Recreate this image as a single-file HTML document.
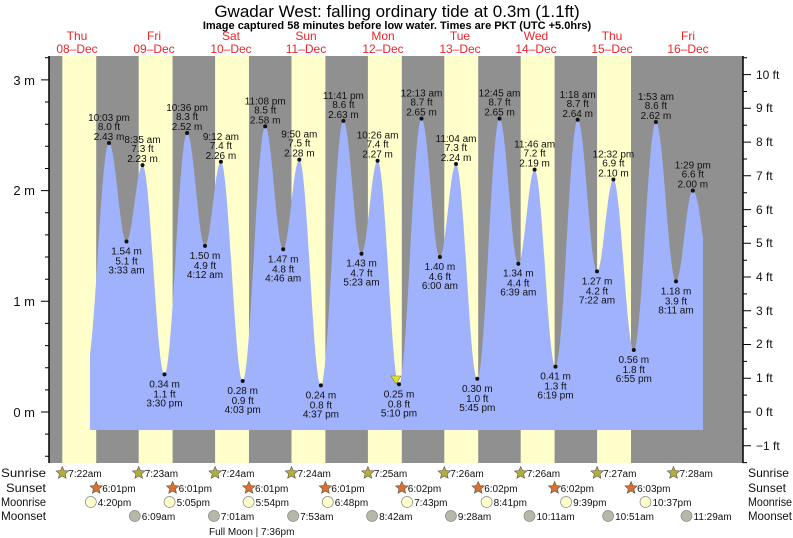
<!DOCTYPE html>
<html><head><meta charset="utf-8"><style>
html,body{margin:0;padding:0;background:#fff;}
svg{display:block;font-family:"Liberation Sans",sans-serif;}
</style></head><body>
<svg width="793" height="538" viewBox="0 0 793 538" xmlns="http://www.w3.org/2000/svg">
<defs>
<clipPath id="cp"><rect x="90" y="56" width="613" height="380"/></clipPath>
<polygon id="st" points="0,-6.5 1.76,-2.43 6.18,-2.01 2.85,0.93 3.82,5.26 0,3 -3.82,5.26 -2.85,0.93 -6.18,-2.01 -1.76,-2.43" stroke="#555" stroke-width="0.6"/>
</defs>
<rect x="49" y="56" width="694" height="407" fill="#909090"/>
<g fill="#ffffcc">
<rect x="62.3" y="56" width="33.9" height="407"/>
<rect x="138.7" y="56" width="33.9" height="407"/>
<rect x="215.1" y="56" width="33.9" height="407"/>
<rect x="291.5" y="56" width="33.9" height="407"/>
<rect x="367.9" y="56" width="33.9" height="407"/>
<rect x="444.3" y="56" width="33.9" height="407"/>
<rect x="520.7" y="56" width="33.9" height="407"/>
<rect x="597.1" y="56" width="33.9" height="407"/>
</g>
<path clip-path="url(#cp)" fill="#a0b2fc" d="M86.5,367.7
C94.7,367.7 100.8,143.0 109.0,143.0
C115.4,143.0 120.1,241.5 126.5,241.5
C132.3,241.5 136.7,165.1 142.5,165.1
C150.5,165.1 156.5,374.4 164.5,374.4
C172.7,374.4 178.9,133.0 187.1,133.0
C193.6,133.0 198.5,245.9 205.0,245.9
C210.8,245.9 215.1,161.8 220.9,161.8
C228.8,161.8 234.8,381.0 242.7,381.0
C250.9,381.0 257.0,126.4 265.2,126.4
C271.8,126.4 276.6,249.3 283.2,249.3
C289.1,249.3 293.4,159.6 299.3,159.6
C307.2,159.6 313.0,385.4 320.9,385.4
C329.1,385.4 335.2,120.9 343.4,120.9
C350.0,120.9 354.9,253.7 361.5,253.7
C367.4,253.7 371.7,160.7 377.6,160.7
C385.4,160.7 391.2,384.3 399.0,384.3
C407.2,384.3 413.3,118.6 421.5,118.6
C428.2,118.6 433.2,257.0 439.9,257.0
C445.8,257.0 450.1,164.0 456.0,164.0
C463.8,164.0 469.5,378.8 477.3,378.8
C485.4,378.8 491.4,118.6 499.5,118.6
C506.3,118.6 511.5,263.7 518.3,263.7
C524.2,263.7 528.7,169.6 534.6,169.6
C542.2,169.6 547.9,366.6 555.5,366.6
C563.6,366.6 569.6,119.8 577.7,119.8
C584.7,119.8 590.0,271.4 597.0,271.4
C603.0,271.4 607.4,179.5 613.4,179.5
C620.8,179.5 626.4,350.0 633.8,350.0
C641.8,350.0 647.9,122.0 655.9,122.0
C663.2,122.0 668.7,281.4 676.0,281.4
C682.1,281.4 686.7,190.6 692.8,190.6
C702.7,190.6 710.1,345.6 720.0,345.6
L720,430 L86.5,430 Z"/>
<g stroke="#000" fill="none">
<line x1="49" y1="56" x2="49" y2="463" stroke-width="1.5"/>
<line x1="743" y1="56" x2="743" y2="463" stroke-width="1.5"/>
<path d="M45,456.3H49M45,434.1H49M41,412H49M45,389.9H49M45,367.7H49M45,345.6H49M45,323.4H49M41,301.3H49M45,279.2H49M45,257H49M45,234.9H49M45,212.7H49M41,190.6H49M45,168.5H49M45,146.3H49M45,124.2H49M45,102H49M41,79.9H49M45,57.8H49"/>
<path d="M743,462.6H747M743,445.7H751M743,428.9H747M743,412H751M743,395.1H747M743,378.3H751M743,361.4H747M743,344.5H751M743,327.7H747M743,310.8H751M743,293.9H747M743,277H751M743,260.2H747M743,243.3H751M743,226.4H747M743,209.6H751M743,192.7H747M743,175.8H751M743,159H747M743,142.1H751M743,125.2H747M743,108.3H751M743,91.5H747M743,74.6H751M743,57.7H747"/>
</g>
<g font-size="12" fill="#111">
<text x="756" y="450">−1 ft</text><text x="756" y="416">0 ft</text><text x="756" y="382">1 ft</text>
<text x="756" y="348">2 ft</text><text x="756" y="315">3 ft</text><text x="756" y="281">4 ft</text>
<text x="756" y="247">5 ft</text><text x="756" y="214">6 ft</text><text x="756" y="180">7 ft</text>
<text x="756" y="146">8 ft</text><text x="756" y="112">9 ft</text><text x="756" y="79">10 ft</text>
</g>
<g font-size="10" fill="#111" text-anchor="middle">
<circle cx="109.0" cy="143.0" r="2"/><text x="109.0" y="121">10:03 pm</text><text x="109.0" y="130">8.0 ft</text><text x="109.0" y="140">2.43 m</text>
<circle cx="126.5" cy="241.5" r="2"/><text x="126.5" y="254.5">1.54 m</text><text x="126.5" y="264.5">5.1 ft</text><text x="126.5" y="273.5">3:33 am</text>
<circle cx="142.5" cy="165.1" r="2"/><text x="142.5" y="143.1">8:35 am</text><text x="142.5" y="152.1">7.3 ft</text><text x="142.5" y="162.1">2.23 m</text>
<circle cx="164.5" cy="374.4" r="2"/><text x="164.5" y="387.4">0.34 m</text><text x="164.5" y="397.4">1.1 ft</text><text x="164.5" y="406.4">3:30 pm</text>
<circle cx="187.1" cy="133.0" r="2"/><text x="187.1" y="111">10:36 pm</text><text x="187.1" y="120">8.3 ft</text><text x="187.1" y="130">2.52 m</text>
<circle cx="205.0" cy="245.9" r="2"/><text x="205.0" y="258.9">1.50 m</text><text x="205.0" y="268.9">4.9 ft</text><text x="205.0" y="277.9">4:12 am</text>
<circle cx="220.9" cy="161.8" r="2"/><text x="220.9" y="139.8">9:12 am</text><text x="220.9" y="148.8">7.4 ft</text><text x="220.9" y="158.8">2.26 m</text>
<circle cx="242.7" cy="381.0" r="2"/><text x="242.7" y="394">0.28 m</text><text x="242.7" y="404">0.9 ft</text><text x="242.7" y="413">4:03 pm</text>
<circle cx="265.2" cy="126.4" r="2"/><text x="265.2" y="104.4">11:08 pm</text><text x="265.2" y="113.4">8.5 ft</text><text x="265.2" y="123.4">2.58 m</text>
<circle cx="283.2" cy="249.3" r="2"/><text x="283.2" y="262.3">1.47 m</text><text x="283.2" y="272.3">4.8 ft</text><text x="283.2" y="281.3">4:46 am</text>
<circle cx="299.3" cy="159.6" r="2"/><text x="299.3" y="137.6">9:50 am</text><text x="299.3" y="146.6">7.5 ft</text><text x="299.3" y="156.6">2.28 m</text>
<circle cx="320.9" cy="385.4" r="2"/><text x="320.9" y="398.4">0.24 m</text><text x="320.9" y="408.4">0.8 ft</text><text x="320.9" y="417.4">4:37 pm</text>
<circle cx="343.4" cy="120.9" r="2"/><text x="343.4" y="98.9">11:41 pm</text><text x="343.4" y="107.9">8.6 ft</text><text x="343.4" y="117.9">2.63 m</text>
<circle cx="361.5" cy="253.7" r="2"/><text x="361.5" y="266.7">1.43 m</text><text x="361.5" y="276.7">4.7 ft</text><text x="361.5" y="285.7">5:23 am</text>
<circle cx="377.6" cy="160.7" r="2"/><text x="377.6" y="138.7">10:26 am</text><text x="377.6" y="147.7">7.4 ft</text><text x="377.6" y="157.7">2.27 m</text>
<circle cx="399.0" cy="384.3" r="2"/><text x="399.0" y="397.3">0.25 m</text><text x="399.0" y="407.3">0.8 ft</text><text x="399.0" y="416.3">5:10 pm</text>
<circle cx="421.5" cy="118.6" r="2"/><text x="421.5" y="96.6">12:13 am</text><text x="421.5" y="105.6">8.7 ft</text><text x="421.5" y="115.6">2.65 m</text>
<circle cx="439.9" cy="257.0" r="2"/><text x="439.9" y="270">1.40 m</text><text x="439.9" y="280">4.6 ft</text><text x="439.9" y="289">6:00 am</text>
<circle cx="456.0" cy="164.0" r="2"/><text x="456.0" y="142">11:04 am</text><text x="456.0" y="151">7.3 ft</text><text x="456.0" y="161">2.24 m</text>
<circle cx="477.3" cy="378.8" r="2"/><text x="477.3" y="391.8">0.30 m</text><text x="477.3" y="401.8">1.0 ft</text><text x="477.3" y="410.8">5:45 pm</text>
<circle cx="499.5" cy="118.6" r="2"/><text x="499.5" y="96.6">12:45 am</text><text x="499.5" y="105.6">8.7 ft</text><text x="499.5" y="115.6">2.65 m</text>
<circle cx="518.3" cy="263.7" r="2"/><text x="518.3" y="276.7">1.34 m</text><text x="518.3" y="286.7">4.4 ft</text><text x="518.3" y="295.7">6:39 am</text>
<circle cx="534.6" cy="169.6" r="2"/><text x="534.6" y="147.6">11:46 am</text><text x="534.6" y="156.6">7.2 ft</text><text x="534.6" y="166.6">2.19 m</text>
<circle cx="555.5" cy="366.6" r="2"/><text x="555.5" y="379.6">0.41 m</text><text x="555.5" y="389.6">1.3 ft</text><text x="555.5" y="398.6">6:19 pm</text>
<circle cx="577.7" cy="119.8" r="2"/><text x="577.7" y="97.8">1:18 am</text><text x="577.7" y="106.8">8.7 ft</text><text x="577.7" y="116.8">2.64 m</text>
<circle cx="597.0" cy="271.4" r="2"/><text x="597.0" y="284.4">1.27 m</text><text x="597.0" y="294.4">4.2 ft</text><text x="597.0" y="303.4">7:22 am</text>
<circle cx="613.4" cy="179.5" r="2"/><text x="613.4" y="157.5">12:32 pm</text><text x="613.4" y="166.5">6.9 ft</text><text x="613.4" y="176.5">2.10 m</text>
<circle cx="633.8" cy="350.0" r="2"/><text x="633.8" y="363">0.56 m</text><text x="633.8" y="373">1.8 ft</text><text x="633.8" y="382">6:55 pm</text>
<circle cx="655.9" cy="122.0" r="2"/><text x="655.9" y="100">1:53 am</text><text x="655.9" y="109">8.6 ft</text><text x="655.9" y="119">2.62 m</text>
<circle cx="676.0" cy="281.4" r="2"/><text x="676.0" y="294.4">1.18 m</text><text x="676.0" y="304.4">3.9 ft</text><text x="676.0" y="313.4">8:11 am</text>
<circle cx="692.8" cy="190.6" r="2"/><text x="692.8" y="168.6">1:29 pm</text><text x="692.8" y="177.6">6.6 ft</text><text x="692.8" y="187.6">2.00 m</text>
</g>
<polygon points="391,376 401,376 396,384" fill="#e2e21a" stroke="#777" stroke-width="0.6"/>
<text x="397" y="17" font-size="17" text-anchor="middle" fill="#000">Gwadar West: falling  ordinary tide at 0.3m (1.1ft)</text>
<text x="397" y="29" font-size="11" font-weight="bold" text-anchor="middle" fill="#000">Image captured 58 minutes before low water. Times are PKT (UTC +5.0hrs)</text>
<g font-size="12" fill="#e8262b" text-anchor="middle">
<text x="77" y="40">Thu</text><text x="77" y="53">08–Dec</text>
<text x="154" y="40">Fri</text><text x="154" y="53">09–Dec</text>
<text x="231" y="40">Sat</text><text x="231" y="53">10–Dec</text>
<text x="306" y="40">Sun</text><text x="306" y="53">11–Dec</text>
<text x="383" y="40">Mon</text><text x="383" y="53">12–Dec</text>
<text x="460" y="40">Tue</text><text x="460" y="53">13–Dec</text>
<text x="536" y="40">Wed</text><text x="536" y="53">14–Dec</text>
<text x="612" y="40">Thu</text><text x="612" y="53">15–Dec</text>
<text x="688" y="40">Fri</text><text x="688" y="53">16–Dec</text>
</g>
<g font-size="13" fill="#111">
<text x="35" y="85" text-anchor="end">3 m</text>
<text x="35" y="195" text-anchor="end">2 m</text>
<text x="35" y="306" text-anchor="end">1 m</text>
<text x="35" y="417" text-anchor="end">0 m</text>
</g>
<g font-size="12" fill="#111">
<text x="1" y="477" textLength="45" lengthAdjust="spacingAndGlyphs">Sunrise</text>
<text x="6" y="492" textLength="40" lengthAdjust="spacingAndGlyphs">Sunset</text>
<text x="1" y="506" textLength="45" lengthAdjust="spacingAndGlyphs">Moonrise</text>
<text x="1" y="520" textLength="45" lengthAdjust="spacingAndGlyphs">Moonset</text>
<text x="748" y="477" textLength="41" lengthAdjust="spacingAndGlyphs">Sunrise</text>
<text x="748" y="492" textLength="38" lengthAdjust="spacingAndGlyphs">Sunset</text>
<text x="748" y="506" textLength="44" lengthAdjust="spacingAndGlyphs">Moonrise</text>
<text x="748" y="520" textLength="44" lengthAdjust="spacingAndGlyphs">Moonset</text>
</g>
<g fill="#b5ad3a">
<use href="#st" x="62.3" y="473"/><use href="#st" x="138.7" y="473"/><use href="#st" x="215.1" y="473"/>
<use href="#st" x="291.5" y="473"/><use href="#st" x="367.9" y="473"/><use href="#st" x="444.3" y="473"/>
<use href="#st" x="520.7" y="473"/><use href="#st" x="597.1" y="473"/><use href="#st" x="673.5" y="473"/>
</g>
<g fill="#d8702e">
<use href="#st" x="96.2" y="488"/><use href="#st" x="172.6" y="488"/><use href="#st" x="249.0" y="488"/>
<use href="#st" x="325.4" y="488"/><use href="#st" x="401.8" y="488"/><use href="#st" x="478.2" y="488"/>
<use href="#st" x="554.6" y="488"/><use href="#st" x="631.1" y="488"/>
</g>
<g fill="#ffffcc" stroke="#888" stroke-width="0.7">
<circle cx="90.8" cy="502" r="5.5"/><circle cx="169.6" cy="502" r="5.5"/><circle cx="248.6" cy="502" r="5.5"/>
<circle cx="327.8" cy="502" r="5.5"/><circle cx="407.1" cy="502" r="5.5"/><circle cx="486.6" cy="502" r="5.5"/>
<circle cx="566.1" cy="502" r="5.5"/><circle cx="645.5" cy="502" r="5.5"/>
</g>
<g fill="#b8b8a8" stroke="#888" stroke-width="0.7">
<circle cx="134.8" cy="516" r="5.5"/><circle cx="213.9" cy="516" r="5.5"/><circle cx="293.1" cy="516" r="5.5"/>
<circle cx="372.1" cy="516" r="5.5"/><circle cx="450.9" cy="516" r="5.5"/><circle cx="529.5" cy="516" r="5.5"/>
<circle cx="608.1" cy="516" r="5.5"/><circle cx="686.5" cy="516" r="5.5"/>
</g>
<g font-size="10" fill="#111">
<text x="68.3" y="477">7:22am</text><text x="144.7" y="477">7:23am</text><text x="221.1" y="477">7:24am</text>
<text x="297.5" y="477">7:24am</text><text x="373.9" y="477">7:25am</text><text x="450.3" y="477">7:26am</text>
<text x="526.7" y="477">7:26am</text><text x="603.1" y="477">7:27am</text><text x="679.5" y="477">7:28am</text>
<text x="102.2" y="492">6:01pm</text><text x="178.6" y="492">6:01pm</text><text x="255.0" y="492">6:01pm</text>
<text x="331.4" y="492">6:01pm</text><text x="407.8" y="492">6:02pm</text><text x="484.2" y="492">6:02pm</text>
<text x="560.6" y="492">6:02pm</text><text x="637.1" y="492">6:03pm</text>
<text x="97.8" y="506">4:20pm</text><text x="176.6" y="506">5:05pm</text><text x="255.6" y="506">5:54pm</text>
<text x="334.8" y="506">6:48pm</text><text x="414.1" y="506">7:43pm</text><text x="493.6" y="506">8:41pm</text>
<text x="573.1" y="506">9:39pm</text><text x="652.5" y="506">10:37pm</text>
<text x="141.8" y="520">6:09am</text><text x="220.9" y="520">7:01am</text><text x="300.1" y="520">7:53am</text>
<text x="379.1" y="520">8:42am</text><text x="457.9" y="520">9:28am</text><text x="536.5" y="520">10:11am</text>
<text x="615.1" y="520">10:51am</text><text x="693.5" y="520">11:29am</text>
<text x="209" y="535">Full Moon | 7:36pm</text>
</g>
</svg>
</body></html>
